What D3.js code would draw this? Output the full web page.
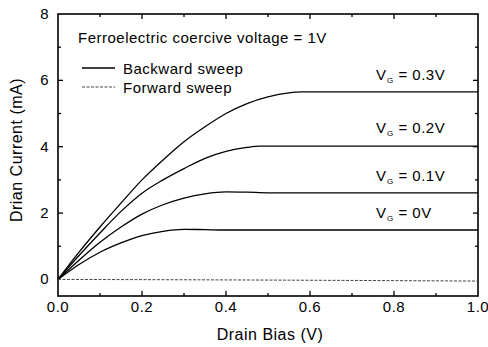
<!DOCTYPE html>
<html>
<head>
<meta charset="utf-8">
<script src="https://cdn.jsdelivr.net/npm/d3@7"></script>
<style>
body { margin: 0; background: #fff; }
text { font-family: "Liberation Sans", Arial, sans-serif; fill: #000; letter-spacing: 0.5px; }
</style>
</head>
<body>
<script>
// drain bias (V) sample points for each curve
var bias_03 = [0, 0.05, 0.1, 0.15, 0.2, 0.25, 0.3, 0.35, 0.4, 0.45, 0.5, 0.55, 0.58, 1.0];
var cur_03  = [0, 0.82, 1.58, 2.3, 3.0, 3.6, 4.15, 4.6, 5.0, 5.3, 5.5, 5.62, 5.65, 5.65];
var bias_02 = [0, 0.05, 0.1, 0.15, 0.2, 0.25, 0.3, 0.35, 0.4, 0.45, 0.48, 1.0];
var cur_02  = [0, 0.72, 1.4, 2.05, 2.6, 3.0, 3.34, 3.65, 3.86, 3.98, 4.02, 4.02];
var bias_01 = [0, 0.05, 0.1, 0.15, 0.2, 0.25, 0.3, 0.35, 0.4, 0.45, 0.5, 1.0];
var cur_01  = [0, 0.58, 1.12, 1.58, 1.97, 2.25, 2.45, 2.58, 2.64, 2.63, 2.61, 2.61];
var bias_00 = [0, 0.05, 0.1, 0.15, 0.2, 0.25, 0.3, 0.35, 0.4, 1.0];
var cur_00  = [0, 0.45, 0.82, 1.1, 1.32, 1.45, 1.51, 1.5, 1.49, 1.49];
var bias_fwd = [0, 0.5, 1.0];
var cur_fwd  = [0, -0.02, -0.05];

var gate_labels = ['0.3V', '0.2V', '0.1V', '0V'];
var label_current = [6.0, 4.4, 2.98, 1.85];   // where each V_G label sits (mA)
var x_ticks = [0, 0.2, 0.4, 0.6, 0.8, 1.0];
var y_ticks = [0, 2, 4, 6, 8];

var width = 488, height = 347;
var m_left = 58, m_right = 478, m_top = 14, m_bottom = 296;

var svg = d3.select('body').append('svg').attr('width', width).attr('height', height)

var x = d3.scaleLinear().domain([0, 1]).range([m_left, m_right])
var y = d3.scaleLinear().domain([-0.5, 8]).range([m_bottom, m_top])

// frame
svg.append('rect').attr('x', m_left).attr('y', m_top)
   .attr('width', m_right-m_left).attr('height', m_bottom-m_top)
   .attr('fill', 'none').attr('stroke', '#000').attr('stroke-width', 1.6)

// inward ticks on all four sides, major + minor
var xminor = [0.1, 0.3, 0.5, 0.7, 0.9]
var yminor = [1, 3, 5, 7]
function xticks(vals, len) {
    vals.forEach(v => {
        svg.append('line').attr('x1', x(v)).attr('x2', x(v)).attr('y1', m_bottom).attr('y2', m_bottom-len).attr('stroke', '#000').attr('stroke-width', 1.3)
        svg.append('line').attr('x1', x(v)).attr('x2', x(v)).attr('y1', m_top).attr('y2', m_top+len).attr('stroke', '#000').attr('stroke-width', 1.3)
    })
}
function yticks(vals, len) {
    vals.forEach(v => {
        svg.append('line').attr('y1', y(v)).attr('y2', y(v)).attr('x1', m_left).attr('x2', m_left+len).attr('stroke', '#000').attr('stroke-width', 1.3)
        svg.append('line').attr('y1', y(v)).attr('y2', y(v)).attr('x1', m_right).attr('x2', m_right-len).attr('stroke', '#000').attr('stroke-width', 1.3)
    })
}
xticks(x_ticks.slice(1, -1), 5)
xticks(xminor, 3)
yticks(y_ticks.slice(1, -1), 5)
yticks(yminor, 3)

svg.selectAll('.xl').data(x_ticks).enter().append('text')
   .attr('x', d => x(d)).attr('y', 312)
   .attr('text-anchor', 'middle').attr('font-size', 15)
   .text(d => d3.format('.1f')(d))
svg.selectAll('.yl').data(y_ticks).enter().append('text')
   .attr('x', 49).attr('y', d => y(d)+5)
   .attr('text-anchor', 'end').attr('font-size', 15)
   .text(d => d)

svg.append('text').attr('x', 270).attr('y', 340).attr('text-anchor', 'middle')
   .attr('font-size', 16).text('Drain Bias (V)')
svg.append('text').attr('transform', 'translate(22,150) rotate(-90)')
   .attr('text-anchor', 'middle').attr('font-size', 16).text('Drian Current (mA)')

// curves
var line = d3.line().x(d => x(d[0])).y(d => y(d[1])).curve(d3.curveMonotoneX)
var series = [[bias_03, cur_03], [bias_02, cur_02], [bias_01, cur_01], [bias_00, cur_00]]
series.forEach(s => {
    svg.append('path').attr('d', line(d3.zip(s[0], s[1])))
       .attr('fill', 'none').attr('stroke', '#000').attr('stroke-width', 1.3)
})
svg.append('path').attr('d', line(d3.zip(bias_fwd, cur_fwd)))
   .attr('fill', 'none').attr('stroke', '#444').attr('stroke-width', 1)
   .attr('stroke-dasharray', '3,1.5')

// V_G labels
gate_labels.forEach((g, i) => {
    var t = svg.append('text').attr('x', 376).attr('y', y(label_current[i])).attr('font-size', 15)
    t.append('tspan').text('V')
    t.append('tspan').attr('font-size', 8).attr('dy', 3).attr('dx', 0.5).text('G')
    t.append('tspan').attr('dy', -3).text(' = ' + g)
})

// legend
svg.append('text').attr('x', 78).attr('y', 43).attr('font-size', 15)
   .text('Ferroelectric coercive voltage = 1V')
svg.append('line').attr('x1', 82).attr('x2', 115).attr('y1', 68).attr('y2', 68)
   .attr('stroke', '#000').attr('stroke-width', 1.3)
svg.append('text').attr('x', 123).attr('y', 74).attr('font-size', 15).text('Backward sweep')
svg.append('line').attr('x1', 82).attr('x2', 115).attr('y1', 87).attr('y2', 87)
   .attr('stroke', '#444').attr('stroke-width', 1).attr('stroke-dasharray', '3,1.5')
svg.append('text').attr('x', 123).attr('y', 93).attr('font-size', 15).text('Forward sweep')
</script>
</body>
</html>
